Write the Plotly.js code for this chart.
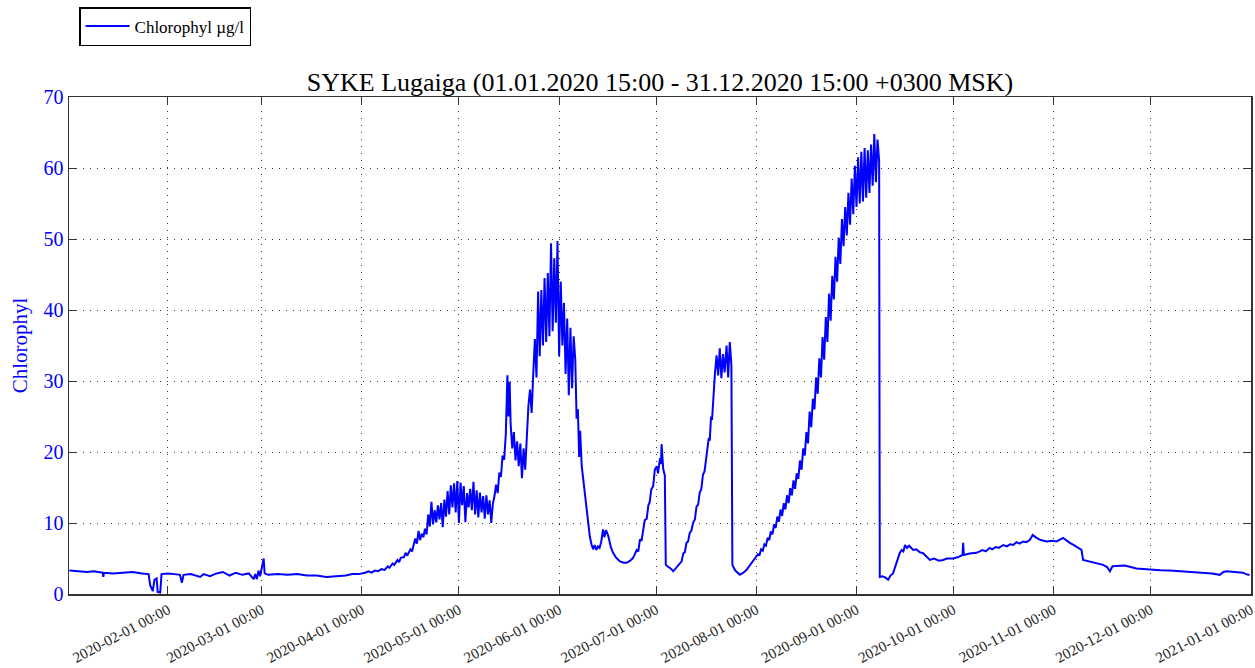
<!DOCTYPE html>
<html>
<head>
<meta charset="utf-8">
<script src="https://cdn.plot.ly/plotly-3.0.1.min.js"></script>
<style>html,body{margin:0;padding:0;background:#fff;}#chart{width:1255px;height:668px;}</style>
</head>
<body>
<div id="chart"></div>
<script>
// Readings: [day of year 2020 (fractional, day 0 = 2020-01-01 00:00), chlorophyll µg/l]
const winter = [
  [0.5,3.3],[3,3.2],[6,3.1],[8,3.2],[10.8,3.0],[11,2.4],[11.2,3.0],[14,2.9],[17,3.0],[20,3.1],
  [23,2.9],[25,2.8],[25.5,1.2],[26.3,0.4],[26.8,2.0],[27.5,2.2],[27.8,0.3],[28.6,0.2],[29,2.8],
  [31,2.9],[33,2.8],[34.7,2.7],[35.3,1.6],[35.8,2.7],[38,2.8],[41,2.4],[42,2.8],[44,2.5],[46,2.9],
  [48,3.1],[50,2.6],[52,3.0],[54,2.7],[56,2.9],[57.5,2.1],[58,2.8],[58.5,2.1],[59,3.3],[59.5,2.5],
  [60.3,4.0],[60.6,5.0],[60.9,2.9],[62,2.7],[65,2.8],[68,2.7],[71,2.8],[74,2.6],[77,2.6],[80,2.4],
  [83,2.5],[86,2.6],[88,2.8],[90,2.8]
];
const spring = [
  [92,3.0],[93,3.2],[94,3.0],[95,3.3],[96,3.2],[97,3.5],[98,3.4],[99,3.9],[99.5,3.7],[100.5,4.3],
  [101,4.1],[102,4.8],[102.5,4.5],[103,5.1],[104,5.2],[104.5,5.8],[105,5.4],[106,6.3],[106.5,6.0],
  [107,6.9],[107.5,7.8],[108,7.1],[108.5,8.9],[109,7.6],[109.5,8.5],[110,8.0],[110.5,9.2],[111,8.4],
  [111.5,11.2],[112,9.5],[112.5,13.0],[113,9.8],[113.5,11.8],[114,10.1],[114.5,12.5],[115,10.5],
  [115.5,12.8],[116,9.4],[116.5,13.3],[117,10.9],[117.5,14.5],[118,11.2],[118.5,15.3],[119,12.2],
  [119.5,15.6],[120,11.5],[120.5,15.9],[121,10.0],[121.5,15.7],[122,12.5],[122.5,15.2],[123,10.1],
  [123.5,14.2],[124,12.2],[124.5,14.8],[125,11.8],[125.5,15.8],[126,11.2],[126.5,14.6],[127,10.8],
  [127.5,14.3],[128,11.5],[128.5,13.8],[129,10.6],[129.5,13.9],[130,11.2],[130.5,13.2],[131,10.0],
  [131.5,12.7],[132,13.8],[132.5,15.4],[133,14.2],[133.5,17.1],[134,16.5],[134.5,19.5],[135,18.9],
  [135.5,22.5],[136,30.8],[136.3,25.0],[136.7,29.9],[137,24.0],[137.5,20.5],[138,22.8],[138.5,18.8],
  [139,21.5],[139.5,18.0],[140,21.2],[140.5,16.3],[141,20.5],[141.5,17.5],[142,22.5],[142.5,26.5],
  [143,28.8],[143.5,25.5],[144,31.0],[144.5,35.9],[145,30.5],[145.5,42.6],[146,33.5],[146.5,42.8],
  [147,35.0],[147.5,44.5],[148,35.5],[148.5,45.2],[149,36.3],[149.5,49.4],[150,37.0],[150.5,47.3],
  [151,38.2],[151.5,49.7],[152,33.5],[152.5,44.0],[153,35.0],[153.5,41.0],[154,31.0],[154.5,38.8],
  [155,28.0],[155.5,37.5],[156,29.0],[156.5,36.3],[157,33.0],[157.4,24.7],[157.8,26.0],[158.2,19.3],
  [158.5,23.0],[159,18.0],[159.5,16.0],[160,14.0],[160.5,12.0],[161,10.0],[161.5,8.1],[162,7.0],
  [162.5,6.3],[163,6.9],[163.5,6.2],[164,6.7],[164.5,6.5],[165,7.3],[165.6,9.1],[166,8.0],[166.5,9.0],
  [167.2,8.2],[168,6.6],[168.7,5.8],[169.5,5.2],[170.8,4.6],[172,4.4],[172.9,4.4],[174,4.7],[174.9,5.1],
  [176,6.2],[176.5,6.0],[177,7.7],[177.5,7.5],[178,9.0],[178.5,10.4],[179.1,10.6],[179.6,12.5],
  [180,12.9],[180.5,14.7],[181.1,15.2],[181.6,17.5]
];
const summer = [
  [182.2,18.0],[182.6,17.0],[183.2,19.1],[183.5,18.3],[183.7,21.1],[184.2,17.6],[184.7,16.7],[185,4.1],
  [185.5,3.9],[186.5,3.6],[187.3,3.2],[188.3,3.8],[189.4,4.4],[189.9,4.6],[190.4,5.7],[190.9,5.9],
  [191.4,7.2],[191.9,7.4],[192.4,8.6],[192.9,8.9],[193.5,10.1],[194,10.5],[194.5,12.3],[195,12.6],
  [195.5,14.3],[196,14.8],[196.5,16.8],[197,17.3],[197.6,19.5],[198.3,22.0],[198.6,21.6],[199,25.0],
  [199.3,24.5],[199.7,28.0],[200.2,31.0],[200.7,33.6],[201.2,30.8],[201.7,34.6],[202.2,30.4],[202.7,33.8],
  [203.2,31.2],[203.8,35.0],[204.3,30.5],[204.8,35.5],[205.3,32.2],[205.6,4.1],[206.5,3.3],[207.9,2.7],
  [209,3.0],[210,3.4],[211.5,4.3],[213,5.2],[213.5,5.6],[214,5.5],[214.5,6.3],[215,6.1],[215.5,7.0],
  [216,6.8],[216.5,7.9],[217,7.6],[217.5,8.8],[218,8.4],[218.5,9.8],[219,9.3],[219.5,10.9],[220,10.2],
  [220.5,11.9],[221,11.0],[221.5,12.8],[222,11.9],[222.5,13.9],[223,12.8],[223.5,14.9],[224,13.9],
  [224.5,16.0],[225,14.8],[225.5,17.0],[226,16.2],[226.5,18.8],[227,17.5],[227.5,20.5],[228,19.5],
  [228.5,22.8],[229,21.2],[229.5,25.7],[230,23.5],[230.5,27.5],[231,26.0],[231.5,30.5],[232,28.2],
  [232.5,33.2],[233,30.5],[233.5,36.2],[234,33.0],[234.5,39.0],[235,35.5],[235.5,42.3],[236,38.5],
  [236.5,44.8],[237,41.5],[237.5,47.5],[238,44.0],[238.5,50.2],[239,46.5],[239.5,52.8],[240,49.0],
  [240.5,54.5],[241,50.5],[241.5,56.5],[242,52.0],[242.5,58.5],[243,53.5],[243.5,60.3],[244,54.5],
  [244.5,61.5],[245,55.0],[245.5,62.3],[246,55.3],[246.5,62.8],[247,55.8],[247.5,62.5],[248,56.5],
  [248.5,63.3],[249,57.5],[249.5,64.8],[250,58.0],[250.5,64.0],[251,61.0]
];
const autumn = [
  [251.2,2.4],[252,2.5],[253,2.3],[253.8,2.0],[254.5,2.6],[255.3,2.9],[256.3,4.3],[257.4,5.8],[258,6.2],
  [258.5,6.0],[259,6.9],[259.6,6.5],[260.3,6.8],[261.5,6.2],[262.5,6.3],[263.5,5.9],[264.6,5.75],
  [265.5,5.4],[266.7,4.8],[268,5.0],[269.5,4.7],[270.8,4.8],[272,5.0],[273.9,5.0],[275.5,5.2],
  [276.8,5.5],[277,7.2],[277.2,5.5],[279,5.7],[281.1,5.8],[283,6.2],[284,6.0],[285.2,6.5],[286,6.3],
  [287,6.6],[288,6.5],[289.4,6.9],[290.5,6.7],[291.5,7.0],[292.5,6.9],[293.5,7.3],[294.5,7.1],
  [295.5,7.4],[296.5,7.3],[297.6,7.6],[298.5,8.3],[299.7,7.9],[301,7.6],[302.8,7.4],[304.5,7.5],
  [305.9,7.4],[307.9,7.9],[309,7.5],[310,7.2],[311.5,6.8],[313.1,6.4],[313.6,6.2],[314.1,4.8],
  [316,4.6],[318,4.4],[320.3,4.1],[321.5,3.8],[322.4,3.2],[323.2,3.9],[325.5,3.9],[327,4.0],
  [330.6,3.6],[333,3.5],[335,3.4],[338,3.35],[340.9,3.3],[344,3.2],[348,3.1],[351.2,3.0],[354,2.9],
  [356.4,2.7],[357.5,3.1],[358.5,3.2],[361.5,3.1],[363.5,3.0],[365.1,2.7],[365.6,2.7]
];

const titleText = 'SYKE Lugaiga (01.01.2020 15:00 - 31.12.2020 15:00 +0300 MSK)';
const seriesName = 'Chlorophyl µg/l';
const yTitle = 'Chlorophyl';

const readings = [...winter, ...spring, ...summer, ...autumn];
const t0 = Date.UTC(2020, 0, 1);
const toStamp = d => new Date(t0 + d * 864e5).toISOString().slice(0, 19).replace('T', ' ');
const xs = readings.map(r => toStamp(r[0]));
const ys = readings.map(r => r[1]);

const serif = 'Liberation Serif, Times New Roman, serif';

Plotly.newPlot('chart', [{
  type: 'scatter', mode: 'lines', x: xs, y: ys, name: seriesName,
  line: {color: '#0000ff', width: 2}
}], {
  width: 1255, height: 668,
  margin: {l: 69, r: 4, t: 97, b: 74},
  paper_bgcolor: '#fff', plot_bgcolor: '#fff',
  showlegend: true,
  legend: {x: 0.0085, y: 1.181, xanchor: 'left', yanchor: 'top', bordercolor: '#000', borderwidth: 1.5,
           font: {family: serif, size: 17, color: '#000'}, itemwidth: 44, bgcolor: '#fff'},
  title: {text: titleText, font: {family: serif, size: 26, color: '#000'}, x: 0.5, xref: 'paper', xanchor: 'center', y: 1 - 82 / 668, yanchor: 'middle'},
  xaxis: {
    type: 'date', range: ['2020-01-01 09:00', '2021-01-01 01:00'],
    tick0: '2020-02-01', dtick: 'M1', tickformat: '%Y-%m-%d %H:%M', tickangle: -28,
    ticklabeloverflow: 'allow',
    ticks: 'inside', ticklen: 8, tickcolor: '#333', tickwidth: 1,
    showline: true, linecolor: '#333', linewidth: 1.5, mirror: 'allticks',
    showgrid: true, gridcolor: '#333', griddash: '1px,6px', gridwidth: 1,
    tickfont: {family: serif, size: 15, color: '#222'}, zeroline: false
  },
  yaxis: {
    range: [0, 70], dtick: 10, tick0: 0,
    ticks: 'inside', ticklen: 8, tickcolor: '#333',
    showline: true, linecolor: '#333', linewidth: 1.5, mirror: 'allticks',
    showgrid: true, gridcolor: '#333', griddash: '1px,6px', gridwidth: 1,
    tickfont: {family: serif, size: 20, color: '#0000ff'}, zeroline: false,
    title: {text: yTitle, font: {family: serif, size: 21, color: '#0000ff'}, standoff: 10}
  }
}, {displayModeBar: false, staticPlot: true});
</script>
</body>
</html>
